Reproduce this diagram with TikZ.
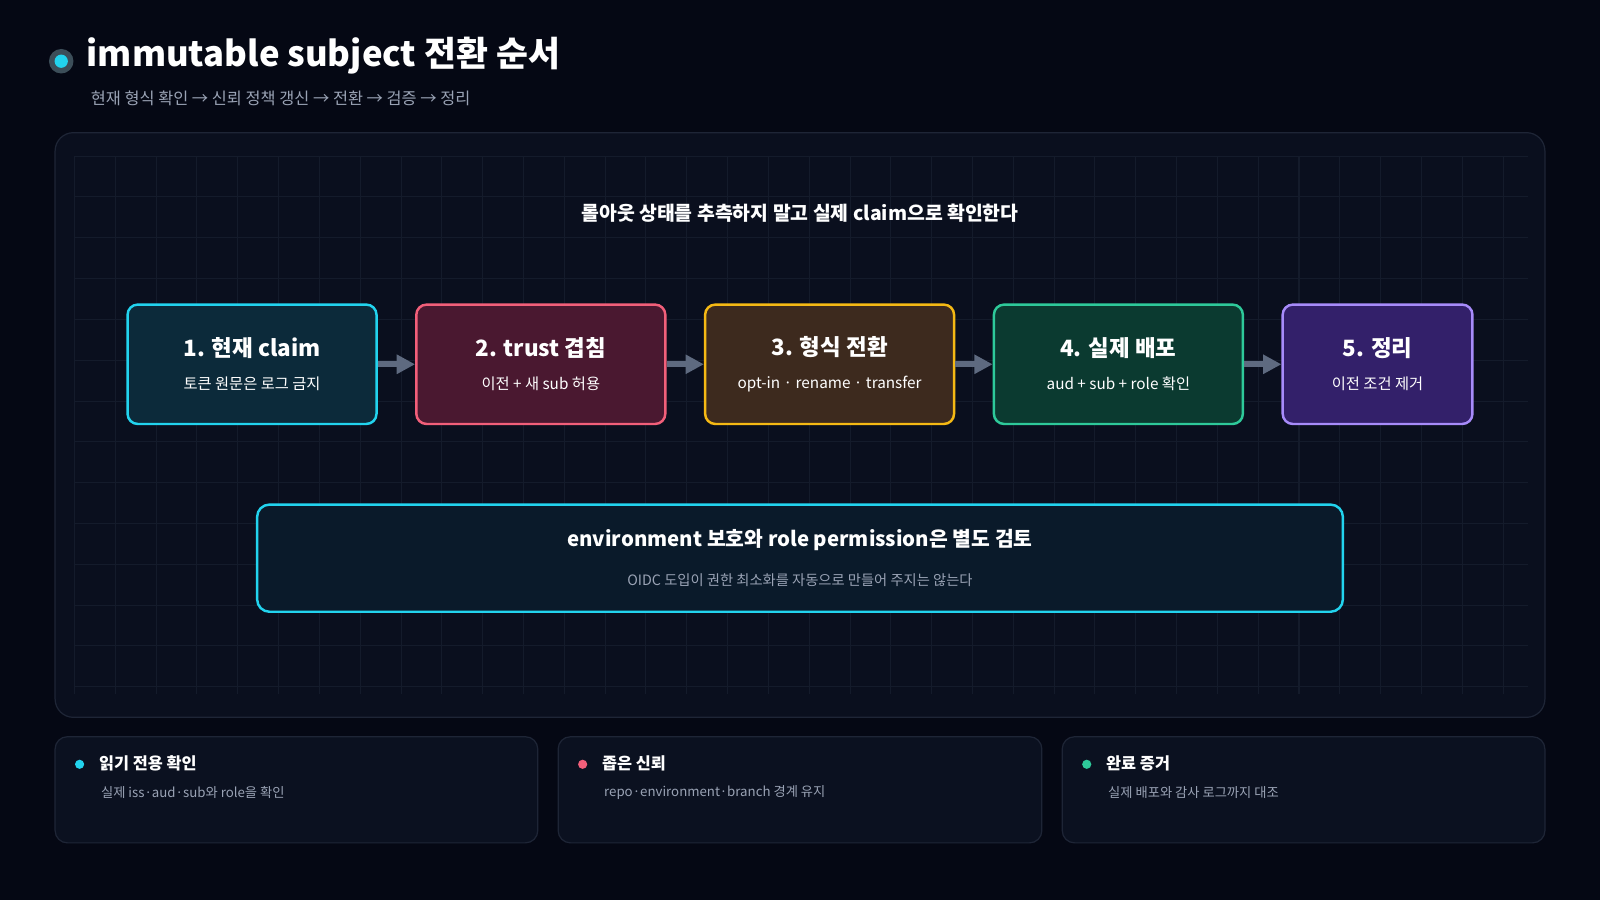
\documentclass[tikz,border=0pt]{standalone}
\usepackage{fontspec}
\setmainfont{Noto Sans CJK KR}
\usepackage{xcolor}
\usetikzlibrary{arrows.meta,positioning}
\definecolor{bgdark}{HTML}{050814}
\definecolor{panelbg}{HTML}{0A0F1E}
\definecolor{panelline}{HTML}{1E2536}
\definecolor{gridline}{HTML}{141B2B}
\definecolor{subgray}{HTML}{9AA3B5}
\definecolor{arrowgray}{HTML}{5E6A80}
\definecolor{cyanline}{HTML}{22D3EE}
\definecolor{cyanfill}{HTML}{0C2A3A}
\definecolor{pinkline}{HTML}{F25F7A}
\definecolor{pinkfill}{HTML}{4A1830}
\definecolor{amberline}{HTML}{F5B914}
\definecolor{amberfill}{HTML}{3D2A1E}
\definecolor{greenline}{HTML}{2EC99A}
\definecolor{greenfill}{HTML}{0B3A30}
\definecolor{purpleline}{HTML}{A78BFA}
\definecolor{purplefill}{HTML}{33206A}
\definecolor{notefill}{HTML}{0A1A2A}
\definecolor{cardfill}{HTML}{0B1120}
\tikzset{
  step/.style = {draw=#1line, fill=#1fill, line width=1.2pt, rounded corners=5pt,
    minimum height=58.5pt, align=center, inner sep=0pt},
  flow/.style = {-{Triangle[length=9pt,width=9pt]}, line width=3pt, draw=arrowgray},
  card/.style = {draw=panelline, fill=cardfill, line width=0.6pt, rounded corners=6pt},
}
\newcommand{\steptext}[2]{{\fontsize{11}{13}\selectfont\bfseries #1}\\[4pt]{\fontsize{7.5}{9}\selectfont #2}}
\begin{document}
\begin{tikzpicture}[x=0.5pt, y=-0.5pt, text=white]
        \useasboundingbox (0, 0) rectangle (1568, 882);
        \fill[bgdark] (0, 0) rectangle (1568, 882);

        % title
        \fill[cyanline!30, opacity=0.3] (60, 60) circle(12);
        \fill[cyanline] (60, 60) circle(6.5);
        \node[anchor=west, font=\fontsize{17}{20}\selectfont\bfseries] (title) at (78, 55)
            {immutable subject 전환 순서};
        \node[anchor=west, text=subgray, font=\fontsize{8}{10}\selectfont] (subtitle) at (82, 96)
            {현재 형식 확인 → 신뢰 정책 갱신 → 전환 → 검증 → 정리};

        % panel with grid
        \draw[panelline, fill=panelbg, line width=0.6pt, rounded corners=9pt] (54, 130) rectangle (1514, 703);
        \foreach \x in {73, 113, ..., 1497}
            \draw[gridline, line width=0.5pt] (\x, 153) -- (\x, 680);
        \foreach \y in {153, 193, ..., 680}
            \draw[gridline, line width=0.5pt] (73, \y) -- (1497, \y);

        \node[font=\fontsize{9.5}{11}\selectfont\bfseries] (heading) at (784, 209)
            {롤아웃 상태를 추측하지 말고 실제 claim으로 확인한다};

        % steps
        \node[step=cyan, minimum width=122pt] (s1) at (247, 357)
            {\steptext{1. 현재 claim}{토큰 원문은 로그 금지}};
        \node[step=pink, minimum width=122pt] (s2) at (530, 357)
            {\steptext{2. trust 겹침}{이전 + 새 sub 허용}};
        \node[step=amber, minimum width=122pt] (s3) at (813, 357)
            {\steptext{3. 형식 전환}{opt-in · rename · transfer}};
        \node[step=green, minimum width=122pt] (s4) at (1096, 357)
            {\steptext{4. 실제 배포}{aud + sub + role 확인}};
        \node[step=purple, minimum width=93pt] (s5) at (1350, 357)
            {\steptext{5. 정리}{이전 조건 제거}};

        \draw[flow] (s1) -- (s2);
        \draw[flow] (s2) -- (s3);
        \draw[flow] (s3) -- (s4);
        \draw[flow] (s4) -- (s5);

        % note
        \node[draw=cyanline, fill=notefill, line width=1.2pt, rounded corners=6pt,
            minimum width=532pt, minimum height=52.5pt, align=center] (note) at (784, 547)
            {{\fontsize{10}{12}\selectfont\bfseries environment 보호와 role permission은 별도 검토}\\[7pt]
             {\fontsize{7}{9}\selectfont\color{subgray}OIDC 도입이 권한 최소화를 자동으로 만들어 주지는 않는다}};

        % cards
        \draw[card] (54, 722) rectangle (527, 826);
        \draw[card] (547, 722) rectangle (1021, 826);
        \draw[card] (1041, 722) rectangle (1514, 826);
        \fill[cyanline] (78, 749) circle(4.5);
        \fill[pinkline] (571, 749) circle(4.5);
        \fill[greenline] (1065, 749) circle(4.5);
        \node[anchor=west, font=\fontsize{8}{10}\selectfont\bfseries] (c1) at (90, 748) {읽기 전용 확인};
        \node[anchor=west, font=\fontsize{8}{10}\selectfont\bfseries] (c2) at (583, 748) {좁은 신뢰};
        \node[anchor=west, font=\fontsize{8}{10}\selectfont\bfseries] (c3) at (1077, 748) {완료 증거};
        \node[anchor=west, text=subgray, font=\fontsize{6.5}{8}\selectfont] (t1) at (92, 777)
            {실제 iss·aud·sub와 role을 확인};
        \node[anchor=west, text=subgray, font=\fontsize{6.5}{8}\selectfont] (t2) at (585, 777)
            {repo·environment·branch 경계 유지};
        \node[anchor=west, text=subgray, font=\fontsize{6.5}{8}\selectfont] (t3) at (1079, 777)
            {실제 배포와 감사 로그까지 대조};
    \end{tikzpicture}
\end{document}
